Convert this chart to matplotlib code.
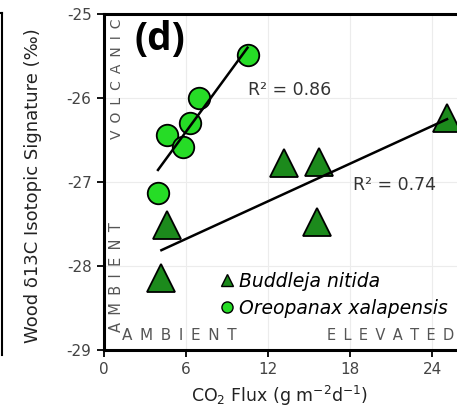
import numpy as np
import matplotlib
matplotlib.use('Agg')
import matplotlib.pyplot as plt
from matplotlib.lines import Line2D

# Buddleja nitida (triangles)
bud_x = [25.1, 13.2, 15.7, 4.6, 15.6, 4.2]
bud_y = [-26.24, -26.77, -26.76, -27.51, -27.48, -28.14]

# Oreopanax xalapensis (circles)
oreo_x = [10.5, 6.95, 6.3, 4.6, 5.8, 3.95]
oreo_y = [-25.49, -26.0, -26.30, -26.44, -26.58, -27.13]

x_ticks = [0, 6, 12, 18, 24]
y_ticks = [-29, -28, -27, -26, -25]
r2_labels = ['R² = 0.86', 'R² = 0.74']

plt.rcParams['font.family'] = ['DejaVu Sans']

def spaced(word):
    return '\u2002'.join(word)

fig = plt.figure(figsize=(4.57, 4.12), dpi=100)
ax = fig.add_axes([104 / 457, 1 - 350 / 412, 410 / 457, 336 / 412])
ax.set_xlim(0, 30)
ax.set_ylim(-29, -25)

ax.grid(True, color='#ececec', linewidth=0.8, zorder=0)
ax.set_axisbelow(True)

# regression lines
def fit_line(xs, ys):
    k, b = np.polyfit(xs, ys, 1)
    xx = np.array([min(xs), max(xs)])
    return xx, k * xx + b

lx, ly = fit_line(oreo_x, oreo_y)
ax.plot(lx, ly, color='black', lw=1.8, zorder=4)
lx, ly = fit_line(bud_x, bud_y)
ax.plot(lx, ly, color='black', lw=1.8, zorder=4)

ax.plot(bud_x, bud_y, linestyle='none', marker='^', markersize=20,
        markerfacecolor='#1c8a1c', markeredgecolor='black', markeredgewidth=1.3, zorder=3)
ax.plot(oreo_x, oreo_y, linestyle='none', marker='o', markersize=15.5,
        markerfacecolor='#26dc26', markeredgecolor='black', markeredgewidth=1.3, zorder=3)

ax.text(10.5, -25.91, r2_labels[0], fontsize=12.5, color='#333333', va='center')
ax.text(18.2, -27.04, r2_labels[1], fontsize=12.5, color='#333333', va='center')

ax.text(2.2, -25.3, '(d)', fontsize=28, fontweight='bold', family='Open Sans',
        ha='left', va='center')

# region labels
lab_col = '#555555'
ax.text(0.95, -25.77, spaced('VOLCANIC'), rotation=90, fontsize=10, color=lab_col,
        ha='center', va='center')
ax.text(0.95, -28.13, spaced('AMBIENT'), rotation=90, fontsize=10.5, color=lab_col,
        ha='center', va='center')
ax.text(1.3, -28.83, spaced('AMBIENT'), fontsize=11, color=lab_col,
        ha='left', va='center')
ax.text(16.35, -28.83, spaced('ELEVATED'), fontsize=10.5, color=lab_col,
        ha='left', va='center')

# legend
leg = [Line2D([], [], linestyle='none', marker='^', markersize=9, markerfacecolor='#1c8a1c',
              markeredgecolor='black', markeredgewidth=1.0),
       Line2D([], [], linestyle='none', marker='o', markersize=8, markerfacecolor='#26dc26',
              markeredgecolor='black', markeredgewidth=1.0)]
ax.legend(leg, ['Buddleja nitida', 'Oreopanax xalapensis'],
          loc='upper left', bbox_to_anchor=(114 / 410, 1 - 258 / 336), frameon=False,
          prop={'style': 'italic', 'size': 13.5}, handletextpad=0.1, handlelength=1.0,
          labelspacing=0.4, borderpad=0, borderaxespad=0)

ax.set_xticks(x_ticks)
ax.set_yticks(y_ticks)
ax.set_xticklabels([str(t) for t in x_ticks])
ax.set_yticklabels([str(t) for t in y_ticks])
ax.tick_params(direction='out', length=5, width=1.3, colors='black',
               labelcolor='#444444', labelsize=11, pad=4)
for s in ax.spines.values():
    s.set_linewidth(2.2)

ax.set_ylabel('Wood δ13C Isotopic Signature (‰)', fontsize=13, color='#222222')
ax.yaxis.set_label_coords(-62 / 410, 0.49)
ax.set_xlabel('CO$_2$ Flux (g m$^{-2}$d$^{-1}$)', fontsize=12.5, color='#222222')
ax.xaxis.set_label_coords(176 / 410, -0.1)

# edge of neighbouring panel
fig.add_artist(Line2D([2 / 457, 2 / 457], [1 - 355 / 412, 1 - 13 / 412],
                      transform=fig.transFigure, color='black', lw=1.5))
fig.add_artist(Line2D([0, 2 / 457], [1 - 13 / 412, 1 - 13 / 412],
                      transform=fig.transFigure, color='black', lw=1.5))

fig.savefig('out.png', dpi=100)
